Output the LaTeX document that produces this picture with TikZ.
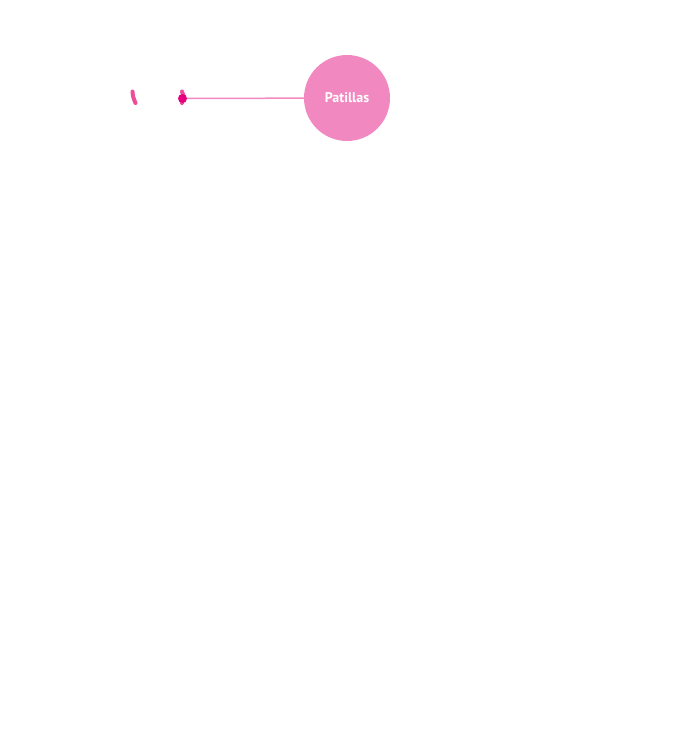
\documentclass[tikz,border=0pt]{standalone}
\usepackage{fontspec}
\setmainfont{PT Sans}
\usepackage{tikz}
\usetikzlibrary{positioning}
\definecolor{rosa}{HTML}{F288C0}
\definecolor{fucsia}{HTML}{E6007E}
\definecolor{trazo}{HTML}{EE4D9B}

\begin{document}
\begin{tikzpicture}[x=1pt,y=-1pt,
	etiqueta/.style={circle, fill=rosa, minimum size=86pt, inner sep=0pt, text=white, font=\bfseries\fontsize{14}{16}\selectfont},
	punto/.style={circle, fill=fucsia, minimum size=9pt, inner sep=0pt}]
	
	\useasboundingbox (0,0) rectangle (695,739);
	\draw[trazo, line width=4pt, line cap=round] (132.5,91.5) .. controls (133,97) .. (135.5,103);
	\draw[trazo, line width=4pt, line cap=round] (182,91.5) .. controls (184,97) .. (182,103);
	\node[punto] (p) at (182.5,98.5) {};
	\node[etiqueta] (patillas) at (347,98) {Patillas};
	\draw[rosa, line width=1.5pt] (p) -- (patillas);
	
\end{tikzpicture}
\end{document}
